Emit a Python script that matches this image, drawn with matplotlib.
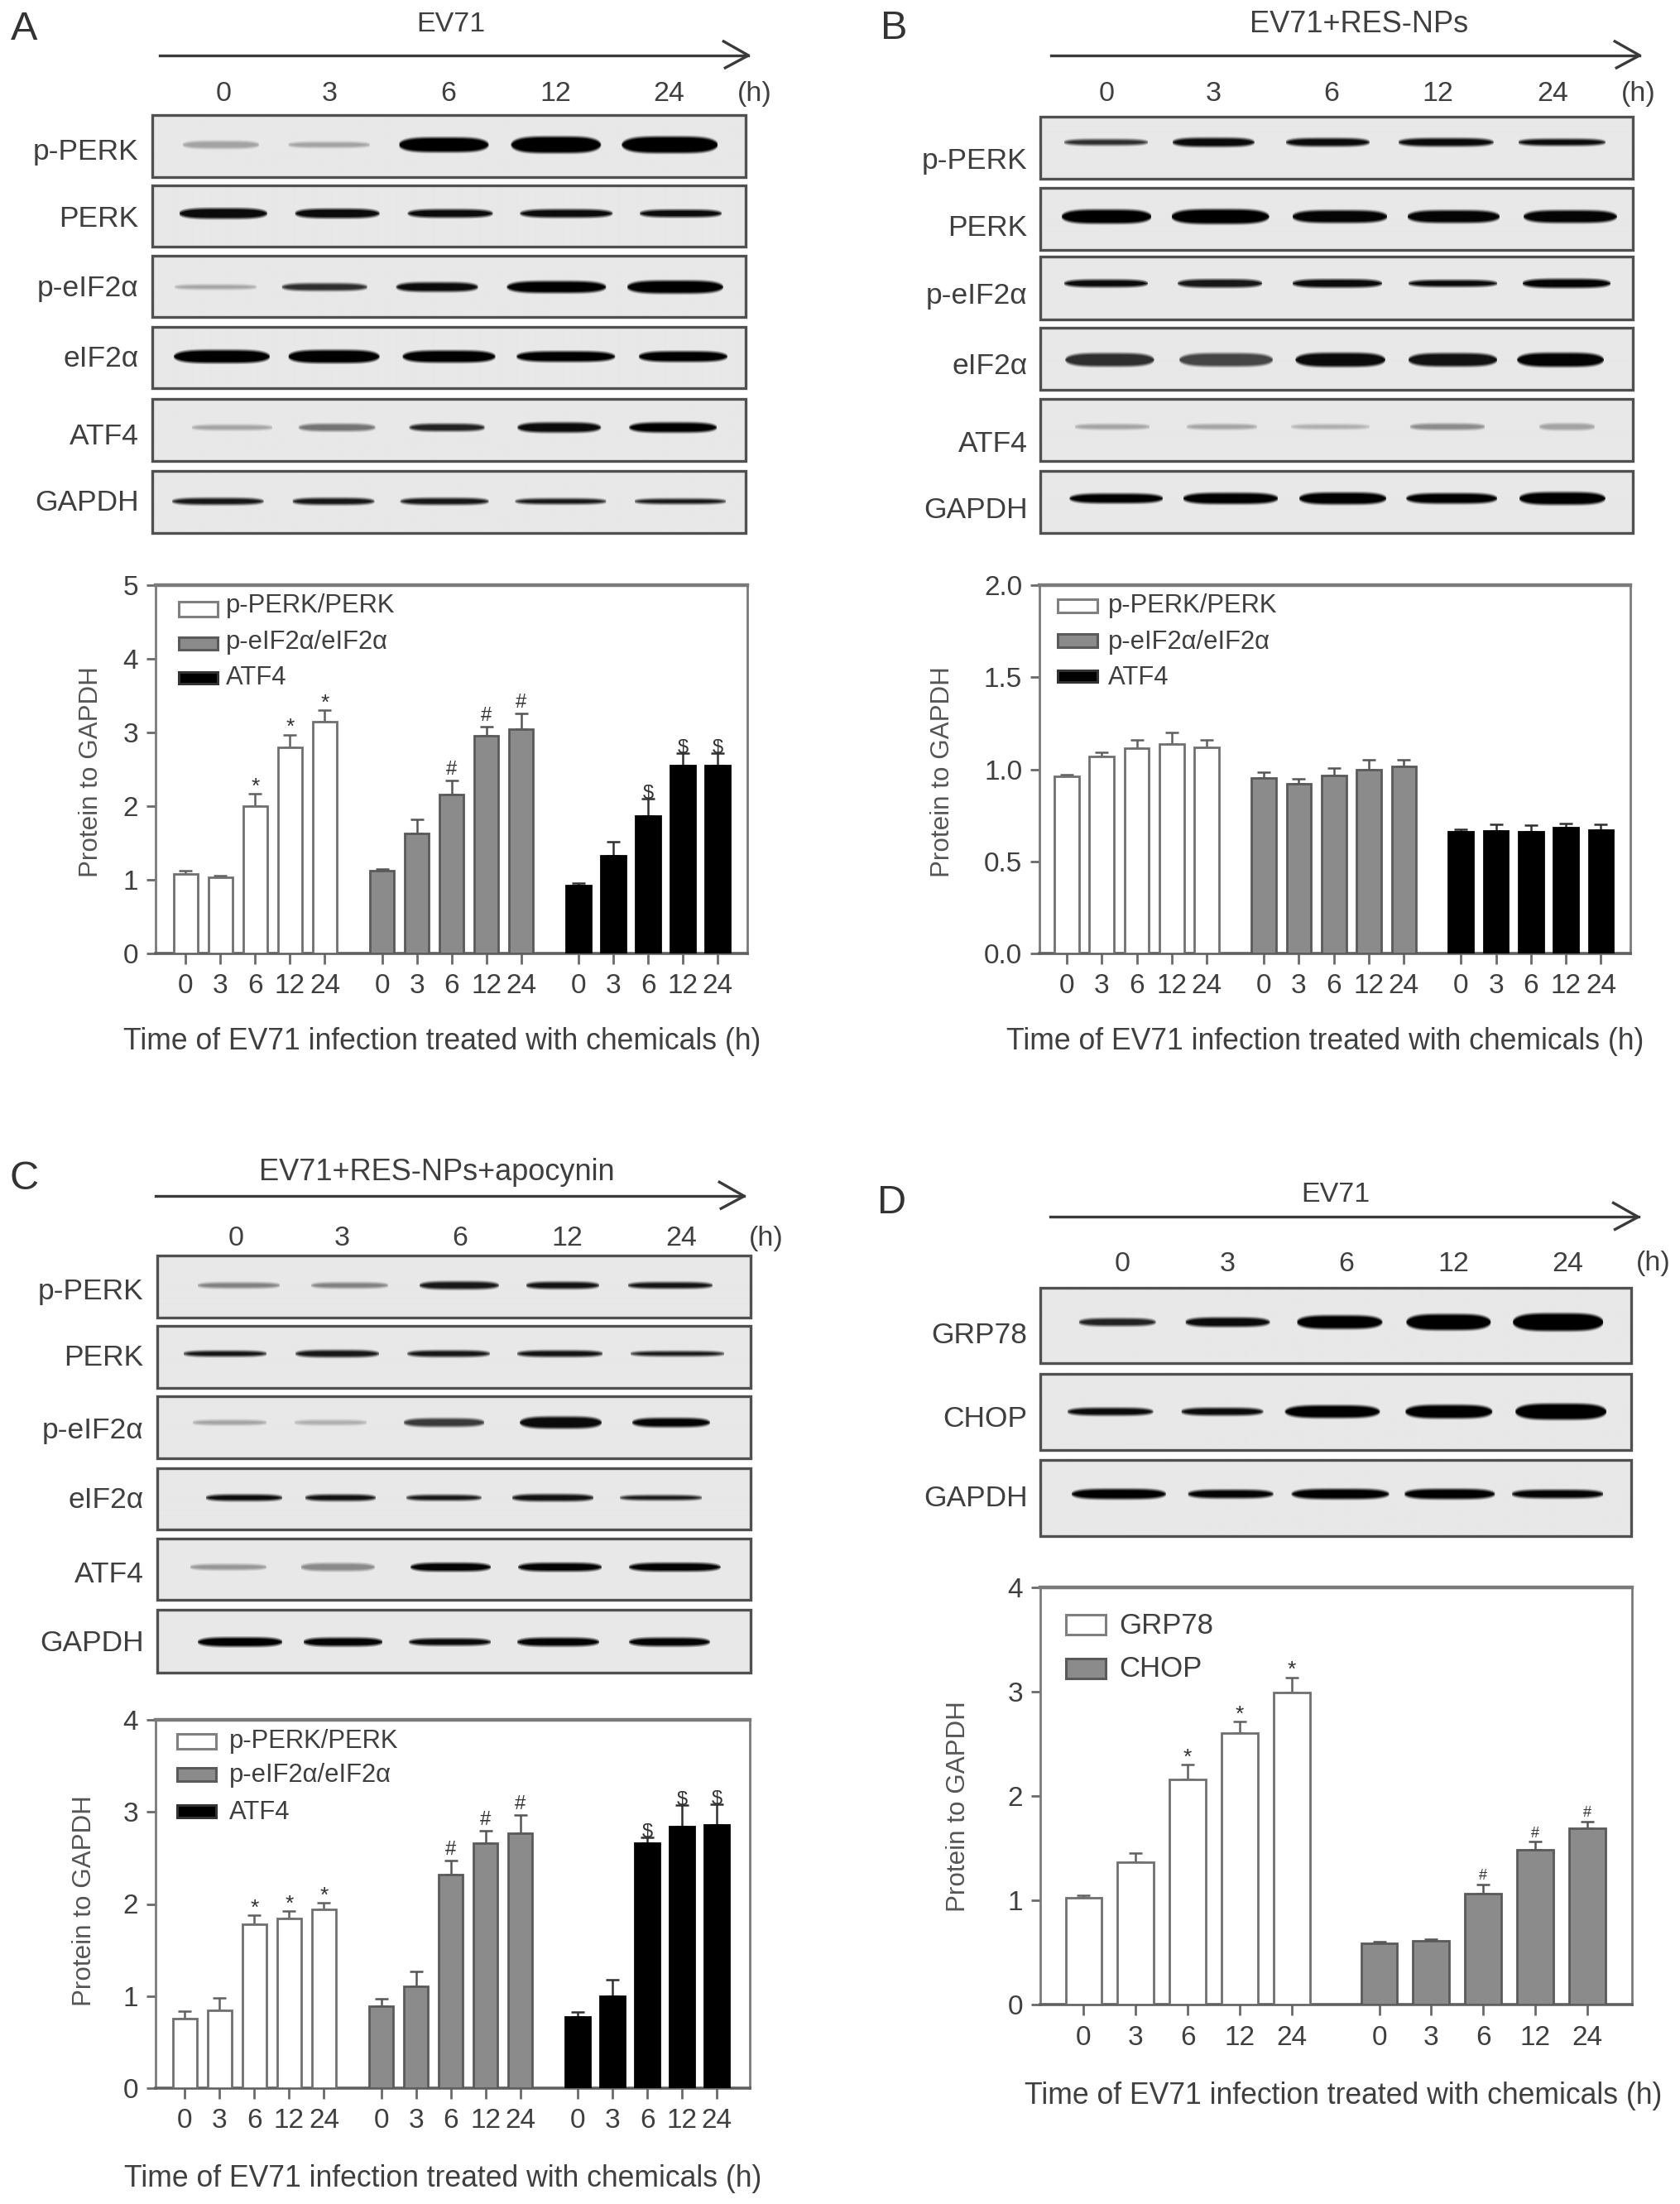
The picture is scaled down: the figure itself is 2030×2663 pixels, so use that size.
import numpy as np
import matplotlib
matplotlib.use('Agg')
import matplotlib.pyplot as plt
from matplotlib.patches import Rectangle

plt.rcParams['font.family'] = ['Liberation Sans', 'DejaVu Sans']

W, H = 2031, 2663
TXT = '#3f3f3f'

hours = ['0', '3', '6', '12', '24']
blot_rows = ['p-PERK', 'PERK', 'p-eIF2\u03b1', 'eIF2\u03b1', 'ATF4', 'GAPDH']

# ---- bar values (mean, top of error bar)
a_perk = [1.08, 1.03, 2.00, 2.80, 3.15]
a_perk_top = [1.12, 1.06, 2.17, 2.97, 3.30]
a_eif = [1.12, 1.63, 2.16, 2.95, 3.05]
a_eif_top = [1.15, 1.82, 2.35, 3.08, 3.26]
a_atf = [0.92, 1.33, 1.87, 2.55, 2.55]
a_atf_top = [0.96, 1.52, 2.10, 2.72, 2.72]

b_perk = [0.96, 1.07, 1.115, 1.135, 1.12]
b_perk_top = [0.97, 1.09, 1.16, 1.20, 1.16]
b_eif = [0.955, 0.92, 0.965, 1.00, 1.015]
b_eif_top = [0.985, 0.95, 1.005, 1.05, 1.05]
b_atf = [0.66, 0.665, 0.66, 0.685, 0.67]
b_atf_top = [0.675, 0.70, 0.695, 0.705, 0.70]

c_perk = [0.755, 0.845, 1.78, 1.84, 1.94]
c_perk_top = [0.835, 0.98, 1.88, 1.92, 2.01]
c_eif = [0.89, 1.107, 2.316, 2.657, 2.766]
c_eif_top = [0.97, 1.27, 2.47, 2.795, 2.965]
c_atf = [0.77, 1.00, 2.66, 2.84, 2.857]
c_atf_top = [0.825, 1.18, 2.72, 3.07, 3.085]

d_grp = [1.02, 1.365, 2.156, 2.606, 2.996]
d_grp_top = [1.046, 1.454, 2.30, 2.716, 3.138]
d_chop = [0.585, 0.613, 1.067, 1.482, 1.69]
d_chop_top = [0.60, 0.624, 1.152, 1.56, 1.755]

# ---- blot band darkness per lane, one list per row
a_dark = [[.30, .30, 1, 1, 1], [.95, .95, .95, .95, .95], [.30, .80, .95, 1, 1],
          [1, 1, 1, 1, 1], [.30, .50, .85, .95, 1], [.90, .90, .90, .90, .90]]
b_dark = [[.80, .95, .95, .95, .95], [1, 1, .98, .98, .98], [.95, .90, .95, .95, .98],
          [.80, .70, .95, .92, .98], [.30, .30, .25, .40, .30], [1, 1, 1, 1, 1]]
c_dark = [[.45, .45, .90, .92, .92], [.92, .90, .90, .92, .90], [.30, .25, .75, .95, .98],
          [.95, .92, .90, .92, .90], [.35, .40, .98, .98, .98], [1, .98, .95, .98, .98]]
d_dark = [[.85, .95, 1, 1, 1], [.95, .95, 1, 1, 1], [1, .98, 1, 1, .98]]

# ---- band layout: x start, x end, thickness (crop units of each panel)
a_bands = [(393, [(345, 490, 20), (545, 700, 15), (755, 925, 40), (968, 1138, 45), (1178, 1360, 45)]),
           (580, [(338, 505, 28), (558, 718, 25), (772, 933, 22), (985, 1160, 22), (1212, 1367, 20)]),
           (778, [(330, 485, 12), (533, 695, 20), (750, 905, 25), (960, 1148, 32), (1188, 1370, 35)]),
           (965, [(328, 510, 35), (545, 718, 35), (762, 938, 32), (978, 1165, 28), (1210, 1378, 28)]),
           (1158, [(362, 515, 14), (565, 710, 20), (775, 918, 20), (980, 1138, 27), (1192, 1358, 27)]),
           (1358, [(325, 498, 18), (553, 708, 18), (758, 925, 18), (976, 1148, 15), (1202, 1375, 14)])]
b_bands = [(386, [(400, 558, 16), (605, 760, 24), (820, 978, 22), (1033, 1213, 22), (1260, 1425, 18)]),
           (585, [(395, 565, 38), (603, 788, 40), (832, 1012, 34), (1050, 1225, 34), (1270, 1447, 34)]),
           (767, [(400, 558, 20), (615, 775, 22), (832, 1002, 22), (1052, 1220, 18), (1268, 1435, 24)]),
           (975, [(402, 570, 36), (618, 795, 36), (838, 1008, 38), (1052, 1220, 36), (1258, 1422, 38)]),
           (1156, [(420, 562, 14), (632, 765, 14), (830, 978, 13), (1055, 1197, 17), (1300, 1405, 18)]),
           (1350, [(410, 587, 26), (625, 805, 30), (845, 1010, 32), (1048, 1220, 28), (1262, 1425, 34)])]
c_bands = [(410, [(375, 530, 16), (590, 735, 16), (795, 945, 22), (997, 1135, 20), (1190, 1350, 18)]),
           (606, [(348, 505, 16), (560, 718, 20), (772, 928, 18), (980, 1142, 18), (1195, 1372, 14)]),
           (806, [(365, 505, 14), (558, 695, 14), (765, 918, 24), (985, 1140, 34), (1198, 1345, 26)]),
           (1022, [(390, 535, 18), (578, 712, 18), (770, 912, 16), (970, 1125, 20), (1175, 1330, 14)]),
           (1220, [(360, 505, 16), (570, 710, 22), (778, 930, 24), (982, 1140, 24), (1192, 1365, 24)]),
           (1435, [(375, 535, 26), (575, 725, 24), (775, 930, 20), (980, 1135, 24), (1192, 1345, 24)])]
d_bands = [(388, [(392, 542, 18), (600, 765, 22), (818, 985, 32), (1032, 1197, 38), (1240, 1417, 42)]),
           (600, [(370, 537, 18), (592, 752, 18), (795, 980, 30), (1030, 1200, 32), (1245, 1423, 38)]),
           (795, [(378, 562, 24), (605, 772, 20), (808, 998, 24), (1028, 1205, 24), (1238, 1417, 20)])]

fig = plt.figure(figsize=(W / 100, H / 100), dpi=100, facecolor='white')
page = fig.add_axes([0, 0, 1, 1])
page.axis('off')


def draw_blot(box, yc, spans, dark, ox, sx, oy, sy):
    x0, x1 = ox + box[0] / sx, ox + box[1] / sx
    y0, y1 = oy + box[2] / sy, oy + box[3] / sy
    xs = np.arange(int(x0), int(x1) + 1) + 0.5
    ys = np.arange(int(y0), int(y1) + 1) + 0.5
    gx, gy = np.meshgrid(xs, ys)
    img = np.full(gx.shape, 0.91)
    yc_px = oy + yc / sy
    for (a, b, t), d in zip(spans, dark):
        a_px, b_px = ox + a / sx, ox + b / sx
        u = np.clip((gx - a_px) / (b_px - a_px), 0, 1)
        half = t / sy / 2 * np.sqrt(np.clip(1 - (2 * u - 1) ** 4, 0, 1))
        m = np.clip((half - np.abs(gy - yc_px)) / 4 + 0.5, 0, 1)
        m[half <= 0] = 0
        img = img * (1 - m * d)
    page.imshow(img, cmap='gray', vmin=0, vmax=1, extent=(x0, x1, y1, y0), aspect='auto',
                interpolation='bilinear')
    page.add_patch(Rectangle((x0, y0), x1 - x0, y1 - y0, fill=False, ec='#505050', lw=2.4))


def draw_header(letter, letter_xy, title, title_size, title_xy, arrow, times_x, times_y, h_x, ox, sx, oy, sy):
    page.text(ox + letter_xy[0] / sx, oy + letter_xy[1] / sy + 2, letter, fontsize=35, color='#333333',
              ha='center', va='center')
    page.text(ox + title_xy[0] / sx, oy + title_xy[1] / sy + 3, title, fontsize=title_size, color=TXT,
              ha='center', va='center')
    xa, xb = ox + arrow[0] / sx, ox + arrow[1] / sx
    ya = oy + arrow[2] / sy
    page.plot([xa, xb], [ya, ya], color='#3a3a3a', lw=2.4)
    page.plot([xb - 30, xb, xb - 28], [ya - 17, ya, ya + 15], color='#3a3a3a', lw=2.4)
    for lab, tx in zip(hours, times_x):
        page.text(ox + tx / sx, oy + times_y / sy + 2, lab, fontsize=24.5, color=TXT, ha='center', va='center')
    page.text(ox + h_x / sx, oy + times_y / sy + 2, '(h)', fontsize=24.5, color=TXT, ha='center', va='center')


def draw_bars(box, ylim, yticks, ytick_fmt, c0, spacing, gap, width, series, tick_pad=8):
    x0, x1, y0, y1 = box
    ax = fig.add_axes([x0 / W, 1 - y1 / H, (x1 - x0) / W, (y1 - y0) / H], facecolor='none')
    ax.set_xlim((x0 - c0) / spacing, (x1 - c0) / spacing)
    ax.set_ylim(*ylim)
    ticks, labels = [], []
    styles = [('white', '#707070', '#606060'), ('#8b8b8b', '#5a5a5a', '#555555'), ('black', 'black', '#303030')]
    for g, (vals, tops, mark) in enumerate(series):
        pos = np.arange(5) + g * gap
        fc, ec, err = styles[g]
        low = np.zeros(5)
        up = np.array(tops) - np.array(vals)
        ax.errorbar(pos, vals, yerr=[low, up], fmt='none', ecolor=err, elinewidth=1.8, capsize=5.5,
                    capthick=1.8, zorder=2)
        ax.bar(pos, vals, width=width, facecolor=fc, edgecolor=ec, linewidth=2.0, zorder=3)
        ticks += list(pos)
        labels += hours
        if mark:
            sym, size, off = mark
            for i in (2, 3, 4):
                ax.annotate(sym, (pos[i], tops[i]), xytext=(0, off), textcoords='offset points',
                            ha='center', va='baseline', fontsize=size, color='#333333', zorder=4)
    ax.set_xticks(ticks)
    ax.set_xticklabels(labels)
    ax.set_yticks(yticks)
    ax.set_yticklabels([ytick_fmt % t for t in yticks])
    ax.tick_params(axis='x', length=9, width=2, color='#6a6a6a', labelsize=24, labelcolor=TXT, pad=tick_pad)
    ax.tick_params(axis='y', length=8, width=2, color='#6a6a6a', labelsize=24, labelcolor=TXT, pad=7)
    for side, sp in ax.spines.items():
        sp.set_color('#7a7a7a')
        sp.set_linewidth(2.0)
    ax.spines['top'].set_linewidth(3.2)
    ax.spines['bottom'].set_color('#606060')
    ax.spines['bottom'].set_linewidth(2.6)
    return ax


def draw_legend(items, rect_x, text_x, fontsize):
    styles = [('white', '#808080'), ('#8b8b8b', '#5a5a5a'), ('black', '#333333')]
    for (lab, ry0, ry1, ty), (fc, ec) in zip(items, styles):
        page.add_patch(Rectangle((rect_x[0], ry0), rect_x[1] - rect_x[0], ry1 - ry0, fc=fc, ec=ec, lw=2.2))
        page.text(text_x, ty, lab, fontsize=fontsize, color=TXT, ha='left', va='center')


def axis_text(xlab_xy, ylab_xy):
    page.text(xlab_xy[0], xlab_xy[1], 'Time of EV71 infection treated with chemicals (h)', fontsize=25.6,
              color=TXT, ha='center', va='center')
    page.text(ylab_xy[0], ylab_xy[1], 'Protein to GAPDH', fontsize=22.6, color='#555555', rotation=90,
              ha='center', va='center')


# ---- panel A
T = (0, 1.568, 0, 2.24)
draw_header('A', (45, 75), 'EV71', 24.5, (855, 60), (303, 1418, 150), [423, 625, 850, 1052, 1268], 250, 1430, *T)
a_boxes = [(312, 480), (502, 668), (692, 858), (884, 1050), (1080, 1248), (1275, 1443)]
a_laby = [405, 585, 775, 965, 1175, 1355]
for name, bx, (yc, sp), dk, ly in zip(blot_rows, a_boxes, a_bands, a_dark, a_laby):
    draw_blot((288, 1412, bx[0], bx[1]), yc, sp, dk, *T)
    page.text(263 / 1.568, ly / 2.24 + 3, name, fontsize=25.5, color=TXT, ha='right', va='center')
draw_bars((188, 903, 707, 1152), (0, 5), [0, 1, 2, 3, 4, 5], '%d', 224.5, 42, 5.65, 0.7,
          [(a_perk, a_perk_top, ('*', 19, 1)), (a_eif, a_eif_top, ('#', 17, 5)), (a_atf, a_atf_top, ('$', 17, 0))])
draw_legend([('p-PERK/PERK', 727, 745, 732), ('p-eIF2\u03b1/eIF2\u03b1', 770, 785, 776), ('ATF4', 812, 826, 819)],
            (216, 263), 273, 22.3)
axis_text((534, 1259), (110, 933))

# ---- panel B
T = (1031, 1.568, 0, 2.24)
draw_header('B', (77, 72), 'EV71+RES-NPs', 26, (958, 60), (375, 1490, 150), [480, 682, 906, 1108, 1325], 250, 1487, *T)
b_boxes = [(315, 484), (508, 676), (695, 864), (888, 1056), (1080, 1248), (1275, 1443)]
b_laby = [430, 610, 795, 985, 1195, 1375]
for name, bx, (yc, sp), dk, ly in zip(blot_rows, b_boxes, b_bands, b_dark, b_laby):
    draw_blot((355, 1477, bx[0], bx[1]), yc, sp, dk, *T)
    page.text(1031 + 330 / 1.568, ly / 2.24 + 3, name, fontsize=25.5, color=TXT, ha='right', va='center')
draw_bars((1256, 1970, 707, 1152), (0, 2), [0, 0.5, 1, 1.5, 2], '%.1f', 1289, 42.3, 5.63, 0.7,
          [(b_perk, b_perk_top, None), (b_eif, b_eif_top, None), (b_atf, b_atf_top, None)])
draw_legend([('p-PERK/PERK', 724, 740, 732), ('p-eIF2\u03b1/eIF2\u03b1', 766, 782, 776), ('ATF4', 810, 824, 819)],
            (1278, 1326), 1339, 22.3)
axis_text((1601, 1259), (1139, 933))

# ---- panel C
T = (0, 1.568, 1380, 2.376)
draw_header('C', (45, 100), 'EV71+RES-NPs+apocynin', 26, (828, 80), (295, 1410, 155), [447, 648, 872, 1075, 1290], 272, 1452, *T)
c_boxes = [(325, 503), (527, 705), (730, 908), (935, 1113), (1137, 1313), (1343, 1523)]
c_laby = [422, 612, 822, 1020, 1235, 1432]
for name, bx, (yc, sp), dk, ly in zip(blot_rows, c_boxes, c_bands, c_dark, c_laby):
    draw_blot((298, 1422, bx[0], bx[1]), yc, sp, dk, *T)
    page.text(272 / 1.568, 1380 + ly / 2.376 + 3, name, fontsize=25.5, color=TXT, ha='right', va='center')
draw_bars((188, 906, 2078, 2523), (0, 4), [0, 1, 2, 3, 4], '%d', 223.5, 42, 5.65, 0.7,
          [(c_perk, c_perk_top, ('*', 19, 1)), (c_eif, c_eif_top, ('#', 17, 5)), (c_atf, c_atf_top, ('$', 17, 0))])
draw_legend([('p-PERK/PERK', 2095, 2113, 2104), ('p-eIF2\u03b1/eIF2\u03b1', 2136, 2152, 2145), ('ATF4', 2181, 2196, 2190)],
            (214, 261), 277, 22.3)
axis_text((535, 2632), (102, 2297))

# ---- panel D
T = (1060, 1.615, 1400, 1.96)
draw_header('D', (28, 100), 'EV71', 24.5, (895, 80), (337, 1485, 138), [478, 684, 915, 1124, 1347], 245, 1515, *T)
d_boxes = [(305, 485), (510, 690), (714, 894)]
d_laby = [412, 610, 798]
for name, bx, (yc, sp), dk, ly in zip(['GRP78', 'CHOP', 'GAPDH'], d_boxes, d_bands, d_dark, d_laby):
    draw_blot((318, 1472, bx[0], bx[1]), yc, sp, dk, *T)
    page.text(1060 + 293 / 1.615, 1400 + ly / 1.96 + 3, name, fontsize=25.5, color=TXT, ha='right', va='center')
draw_bars((1257, 1972, 1918, 2422), (0, 4), [0, 1, 2, 3, 4], '%d', 1309.5, 62.8, 5.685, 0.7,
          [(d_grp, d_grp_top, ('*', 19, 1)), (d_chop, d_chop_top, ('#', 13, 4))], tick_pad=9)
draw_legend([('GRP78', 1951, 1975, 1964), ('CHOP', 2004, 2028, 2016)], (1288, 1336), 1352, 25)
axis_text((1623, 2533), (1158, 2183))

page.set_xlim(0, W)
page.set_ylim(H, 0)

plt.savefig('out.png', dpi=100, facecolor='white')
